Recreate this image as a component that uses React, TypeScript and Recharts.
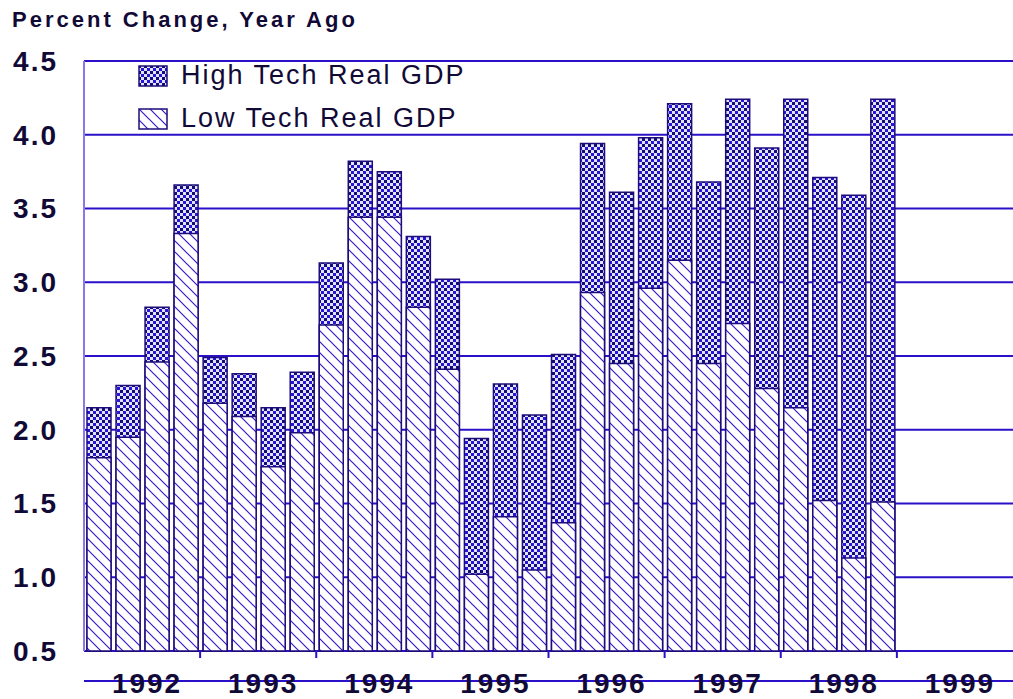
import { BarChart, Bar, XAxis, YAxis, CartesianGrid } from 'recharts';

// quarterly, 1992Q1 .. 1999Q4 (1999 has no data yet)
const years = ['1992', '1993', '1994', '1995', '1996', '1997', '1998', '1999'];
const quarters = years.flatMap((y) => ['Q1', 'Q2', 'Q3', 'Q4'].map((q) => `${y}${q}`));

const highTech = [
  2.15, 2.3, 2.83, 3.66,
  2.49, 2.38, 2.15, 2.39,
  3.13, 3.82, 3.75, 3.31,
  3.02, 1.94, 2.31, 2.1,
  2.51, 3.94, 3.61, 3.98,
  4.21, 3.68, 4.24, 3.91,
  4.24, 3.71, 3.59, 4.24,
];
const lowTech = [
  1.81, 1.95, 2.46, 3.33,
  2.18, 2.09, 1.75, 1.98,
  2.71, 3.44, 3.44, 2.83,
  2.41, 1.02, 1.41, 1.05,
  1.37, 2.93, 2.45, 2.96,
  3.15, 2.45, 2.72, 2.28,
  2.15, 1.52, 1.13, 1.51,
];
const yTicks = [0.5, 1.0, 1.5, 2.0, 2.5, 3.0, 3.5, 4.0, 4.5];

const data = quarters.map((q, i) => ({
  q,
  high: highTech[i] ?? null,
  low: lowTech[i] ?? null,
}));

const W = 1013;
const H = 699;
const LEFT = 84;
const XAXIS_H = 48;
const AXIS_Y = H - XAXIS_H;
const BAND = (W - LEFT) / quarters.length;
const INK = '#120a36';
const FONT = '"Liberation Sans", Arial, sans-serif';

function YearTick(props: any) {
  const { x, index } = props;
  const q = index % 4;
  return (
    <g>
      {q === 0 && index > 0 && (
        <line x1={x - BAND / 2} x2={x - BAND / 2} y1={AXIS_Y} y2={AXIS_Y + 7} stroke="#2a10c8" strokeWidth={2} />
      )}
      {q === 1 && (
        <text
          x={x + BAND / 2 + 5}
          y={AXIS_Y + 42}
          textAnchor="middle"
          fill={INK}
          style={{ fontSize: 28, fontWeight: 700, fontFamily: FONT, letterSpacing: 2 }}
        >
          {years[Math.floor(index / 4)]}
        </text>
      )}
    </g>
  );
}

function LegendRow({ fill, label }: { fill: string; label: string }) {
  return (
    <div style={{ display: 'flex', alignItems: 'center', height: 43 }}>
      <svg width={30} height={22} style={{ marginRight: 13 }}>
        <rect x={1} y={1} width={28} height={20} fill={fill} stroke="#1d0c7a" strokeWidth={1.5} />
      </svg>
      <span style={{ fontSize: 27, letterSpacing: 2, color: INK, fontFamily: FONT }}>{label}</span>
    </div>
  );
}

export default function App() {
  return (
    <div style={{ position: 'absolute', left: 0, top: 0, width: W, height: H, background: '#fff' }}>
      <div
        style={{
          position: 'absolute', left: 12, top: 9, fontSize: 22, lineHeight: '22px',
          fontWeight: 700, letterSpacing: 3, color: INK, fontFamily: FONT,
        }}
      >
        Percent Change, Year Ago
      </div>

      <BarChart width={W} height={H} data={data} margin={{ top: 61, right: 0, bottom: 0, left: 0 }}>
        <defs>
          <pattern id="lowHatch" patternUnits="userSpaceOnUse" width={11} height={11}>
            <rect width={11} height={11} fill="#ffffff" />
            <path d="M0,0 L11,11 M-2,9 L2,13 M9,-2 L13,2" stroke="#3a18c8" strokeWidth={1.2} />
          </pattern>
          <pattern id="highCheck" patternUnits="userSpaceOnUse" width={6} height={6}>
            <rect width={6} height={6} fill="#dfe4ff" />
            <rect x={0} y={0} width={3} height={3} fill="#160a70" />
            <rect x={3} y={3} width={3} height={3} fill="#2a12d8" />
          </pattern>
        </defs>
        <CartesianGrid vertical={false} xAxisId="main" stroke="#2a10c8" strokeWidth={2} />
        <XAxis
          xAxisId="main"
          dataKey="q"
          height={XAXIS_H}
          interval={0}
          tickLine={false}
          axisLine={{ stroke: '#2a10c8', strokeWidth: 2 }}
          tick={YearTick}
        />
        <XAxis xAxisId="front" dataKey="q" hide />
        <YAxis
          width={LEFT}
          domain={[0.5, 4.5]}
          ticks={yTicks}
          tickFormatter={(v: number) => v.toFixed(1)}
          tickLine={false}
          tickSize={0}
          tickMargin={26}
          axisLine={{ stroke: '#8a78e8', strokeWidth: 2 }}
          tick={{ fill: INK, fontSize: 28, fontWeight: 700, fontFamily: FONT, letterSpacing: 2 }}
        />
        <Bar
          xAxisId="main"
          dataKey="high"
          barSize={24}
          fill="url(#highCheck)"
          stroke="#1d0c7a"
          strokeWidth={1.5}
          isAnimationActive={false}
        />
        <Bar
          xAxisId="front"
          dataKey="low"
          barSize={24}
          fill="url(#lowHatch)"
          stroke="#1d0c7a"
          strokeWidth={1.5}
          isAnimationActive={false}
        />
      </BarChart>

      <div style={{ position: 'absolute', left: 138, top: 54 }}>
        <LegendRow fill="url(#highCheck)" label="High Tech Real GDP" />
        <LegendRow fill="url(#lowHatch)" label="Low Tech Real GDP" />
      </div>
    </div>
  );
}
